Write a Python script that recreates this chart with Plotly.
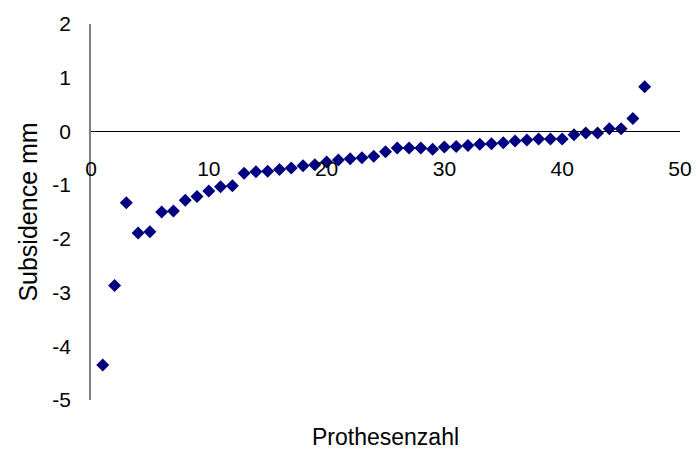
import plotly.graph_objects as go

# Prosthesis number (sorted by subsidence) and measured subsidence in mm
prothese_nr = list(range(1, 48))
subsidence_mm = [
    -4.35, -2.87, -1.33, -1.89, -1.87, -1.50, -1.48, -1.28, -1.21, -1.11,
    -1.03, -1.01, -0.78, -0.75, -0.74, -0.71, -0.68, -0.64, -0.62, -0.57,
    -0.53, -0.51, -0.49, -0.46, -0.38, -0.31, -0.31, -0.31, -0.33, -0.29,
    -0.28, -0.26, -0.24, -0.23, -0.21, -0.18, -0.16, -0.14, -0.14, -0.14,
    -0.06, -0.03, -0.03, 0.05, 0.05, 0.24, 0.83,
]

x_ticks = [0, 10, 20, 30, 40, 50]
y_ticks = [2, 1, 0, -1, -2, -3, -4, -5]
y_tick_text = ["2", "1", "0", "-1", "-2", "-3", "-4", "-5"]
y_min, y_max = -5, 2

FONT = "Arial, Liberation Sans, sans-serif"

fig = go.Figure(
    go.Scatter(
        x=prothese_nr,
        y=subsidence_mm,
        mode="markers",
        marker=dict(symbol="diamond", size=10, color="#000080", line=dict(width=0)),
        showlegend=False,
    )
)

fig.update_layout(
    width=696,
    height=453,
    margin=dict(l=91, r=16, t=24, b=53),
    paper_bgcolor="white",
    plot_bgcolor="white",
    font=dict(family=FONT, size=21, color="black"),
    xaxis=dict(
        range=[0, 50],
        tickvals=x_ticks,
        showgrid=False,
        zeroline=False,
        showline=True,
        linecolor="black",
        linewidth=1,
        ticks="outside",
        ticklen=18,
        tickcolor="rgba(0,0,0,0)",
        anchor="free",
        position=(0 - y_min) / (y_max - y_min),
        automargin=False,
    ),
    yaxis=dict(
        range=[y_min, y_max],
        tickvals=y_ticks,
        ticktext=y_tick_text,
        showgrid=False,
        zeroline=False,
        showline=True,
        linecolor="#808080",
        linewidth=1.5,
        ticks="outside",
        ticklen=14,
        tickcolor="rgba(0,0,0,0)",
        title=dict(text="Subsidence mm", standoff=8),
        automargin=False,
    ),
    annotations=[
        dict(
            text="Prothesenzahl",
            xref="paper",
            yref="paper",
            x=0.5,
            y=-0.098,
            xanchor="center",
            yanchor="middle",
            showarrow=False,
            font=dict(family=FONT, size=23, color="black"),
        )
    ],
)

fig.write_html("out.html")
